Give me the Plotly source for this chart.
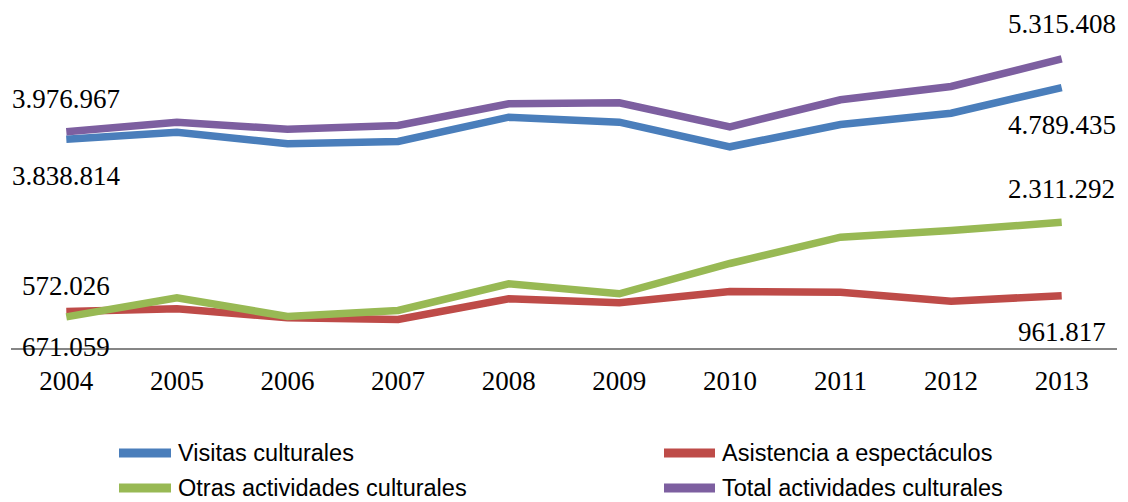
import plotly.graph_objects as go

# Years on the category axis
years = ["2004", "2005", "2006", "2007", "2008", "2009", "2010", "2011", "2012", "2013"]

# Participants per year for each activity group
visitas = [3838814, 3968600, 3755200, 3797500, 4244400, 4152500, 3700100, 4110200, 4318000, 4789435]
asistencia = [671059, 720900, 555400, 524100, 904800, 831200, 1039000, 1026200, 860700, 961817]
otras = [572026, 923200, 579300, 689600, 1180600, 996700, 1554000, 2037600, 2160800, 2311292]
total = [3976967, 4152500, 4023700, 4091800, 4490800, 4509200, 4067900, 4564400, 4809000, 5315408]

names = ["Visitas culturales", "Asistencia a espectáculos",
         "Otras actividades culturales", "Total actividades culturales"]
colors = ["#4A7EBB", "#BE4B48", "#98B954", "#7D5FA0"]
series = [visitas, asistencia, otras, total]

# Figure geometry (pixels)
W_PX, H_PX = 1128, 502
M_L, M_R, M_T, M_B = 11, 11, 21, 154
PLOT_W = W_PX - M_L - M_R
PLOT_H = H_PX - M_T - M_B
Y_MAX = 6013530


def px_x(px):
    return (px - M_L) / PLOT_W


def px_y(py):
    return (M_T + PLOT_H - py) / PLOT_H


def fmt(v):
    return f"{v:,}".replace(",", ".")


fig = go.Figure()
for name, vals, col in zip(names, series, colors):
    fig.add_trace(go.Scatter(
        x=years, y=vals, mode="lines", name=name,
        line=dict(color=col, width=7.5), showlegend=False,
    ))

# End-point value labels: (series, index, vertical shift in px)
label_specs = [
    (total, 0, 33), (visitas, 0, -37), (otras, 0, 31), (asistencia, 0, -35),
    (total, 9, 35), (visitas, 9, -37), (otras, 9, 33), (asistencia, 9, -36),
]
annotations = []
for vals, i, dy in label_specs:
    annotations.append(dict(
        x=i, y=vals[i], xref="x", yref="y", text=fmt(vals[i]),
        showarrow=False, yshift=dy, xanchor="center", yanchor="middle",
        font=dict(family="Liberation Serif", size=27, color="#000000"),
    ))

# Legend drawn as two rows of swatches + labels
legend_items = [
    (0, 115, 175, 453), (1, 660, 719, 453),
    (2, 115, 175, 488), (3, 660, 719, 488),
]
shapes = []
for idx, x0, x1, yc in legend_items:
    shapes.append(dict(
        type="line", xref="paper", yref="paper",
        x0=px_x(x0 + 4), x1=px_x(x1 - 4), y0=px_y(yc), y1=px_y(yc),
        line=dict(color=colors[idx], width=9),
    ))
    annotations.append(dict(
        x=px_x(x1 + 1), y=px_y(yc), xref="paper", yref="paper",
        text=names[idx], showarrow=False, xanchor="left", yanchor="middle",
        font=dict(family="Liberation Sans", size=23.5, color="#000000"),
    ))

fig.update_layout(
    width=W_PX, height=H_PX,
    margin=dict(l=M_L, r=M_R, t=M_T, b=M_B),
    paper_bgcolor="white", plot_bgcolor="white",
    xaxis=dict(
        type="category", range=[-0.5, 9.5], showgrid=False, zeroline=False,
        showline=True, linecolor="#868686", linewidth=2,
        ticks="", tickfont=dict(family="Liberation Serif", size=27, color="#000000"),
        ticklabelstandoff=8,
    ),
    yaxis=dict(range=[0, Y_MAX], visible=False, showgrid=False, zeroline=False),
    annotations=annotations,
    shapes=shapes,
)

fig.write_html("out.html")
